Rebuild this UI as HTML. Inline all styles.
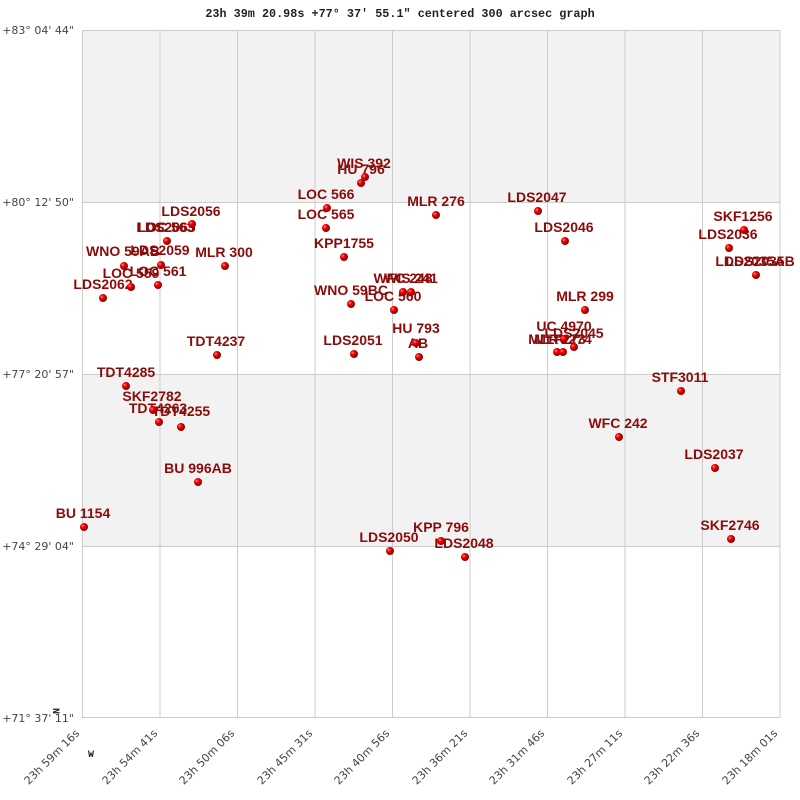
<!DOCTYPE html>
<html><head><meta charset="utf-8"><style>body{margin:0;background:#fff}svg{display:block}</style></head><body>
<svg width="800" height="800" xmlns="http://www.w3.org/2000/svg">
<defs><radialGradient id="g" cx="35%" cy="35%" r="65%"><stop offset="0" stop-color="#ff8080"/><stop offset="0.4" stop-color="#ee0000"/><stop offset="1" stop-color="#880000"/></radialGradient></defs>
<rect x="82" y="30" width="698" height="172" fill="#f2f2f2"/>
<rect x="82" y="374" width="698" height="172" fill="#f2f2f2"/>
<g stroke="#cccccc" stroke-width="1">
<line x1="82.5" y1="30" x2="82.5" y2="718"/><line x1="160" y1="30" x2="160" y2="718"/><line x1="237.5" y1="30" x2="237.5" y2="718"/><line x1="315" y1="30" x2="315" y2="718"/><line x1="392.5" y1="30" x2="392.5" y2="718"/><line x1="470" y1="30" x2="470" y2="718"/><line x1="547.5" y1="30" x2="547.5" y2="718"/><line x1="625" y1="30" x2="625" y2="718"/><line x1="702.5" y1="30" x2="702.5" y2="718"/><line x1="780" y1="30" x2="780" y2="718"/>
<line x1="82" y1="30.5" x2="780" y2="30.5"/><line x1="82" y1="202.5" x2="780" y2="202.5"/><line x1="82" y1="374.5" x2="780" y2="374.5"/><line x1="82" y1="546.5" x2="780" y2="546.5"/><line x1="82" y1="717.5" x2="780" y2="717.5"/>
</g>
<text x="400" y="17" text-anchor="middle" font-family="Liberation Mono, monospace" font-weight="bold" font-size="11.8" fill="#222">23h 39m 20.98s +77° 37′ 55.1" centered 300 arcsec graph</text>
<g font-family="DejaVu Sans, sans-serif" font-size="11" fill="#444" text-anchor="end">
<text x="74" y="34">+83° 04' 44"</text><text x="74" y="206">+80° 12' 50"</text><text x="74" y="378">+77° 20' 57"</text><text x="74" y="550">+74° 29' 04"</text><text x="74" y="722">+71° 37' 11"</text>
</g>
<g font-family="DejaVu Sans, sans-serif" font-size="11" fill="#444" text-anchor="end">
<text transform="translate(80,734) rotate(-45)">23h 59m 16s</text>
<text transform="translate(158,734) rotate(-45)">23h 54m 41s</text>
<text transform="translate(235,734) rotate(-45)">23h 50m 06s</text>
<text transform="translate(313,734) rotate(-45)">23h 45m 31s</text>
<text transform="translate(390,734) rotate(-45)">23h 40m 56s</text>
<text transform="translate(468,734) rotate(-45)">23h 36m 21s</text>
<text transform="translate(545,734) rotate(-45)">23h 31m 46s</text>
<text transform="translate(623,734) rotate(-45)">23h 27m 11s</text>
<text transform="translate(700,734) rotate(-45)">23h 22m 36s</text>
<text transform="translate(778,734) rotate(-45)">23h 18m 01s</text>
</g>
<text x="57" y="712" font-family="Liberation Mono, monospace" font-weight="bold" font-size="10" fill="#222" transform="rotate(90 57 708)">N</text>
<text x="88" y="757" font-family="Liberation Mono, monospace" font-weight="bold" font-size="10" fill="#222">W</text>
<g font-family="Liberation Sans, sans-serif" font-weight="bold" font-size="14" fill="#8b0a0a" text-anchor="middle">
<text x="364" y="168">WIS 392</text><text x="361" y="174">HU 796</text><text x="326" y="199">LOC 566</text><text x="326" y="219">LOC 565</text><text x="436" y="206">MLR 276</text><text x="344" y="248">KPP1755</text><text x="403" y="283">WFC 248</text><text x="411" y="283">WIS 241</text><text x="351" y="295">WNO  59BC</text><text x="393" y="301">LOC 560</text><text x="416" y="333">HU  793</text><text x="418" y="348">AB</text><text x="353" y="345">LDS2051</text>
<text x="191" y="216">LDS2056</text><text x="166" y="232">LOC 563</text><text x="166" y="232">LDS2065</text><text x="160" y="255">LDS2059</text><text x="123" y="256">WNO  59AB</text><text x="224" y="257">MLR 300</text><text x="131" y="278">LOC 559</text><text x="158" y="276">LOC 561</text><text x="103" y="289">LDS2062</text>
<text x="216" y="346">TDT4237</text><text x="126" y="377">TDT4285</text><text x="152" y="401">SKF2782</text><text x="158" y="413">TDT4263</text><text x="181" y="416">TDT4255</text><text x="198" y="473">BU  996AB</text><text x="83" y="518">BU 1154</text>
<text x="389" y="542">LDS2050</text><text x="441" y="532">KPP 796</text><text x="464" y="548">LDS2048</text><text x="537" y="202">LDS2047</text><text x="564" y="232">LDS2046</text><text x="585" y="301">MLR 299</text><text x="564" y="331">UC 4970</text><text x="574" y="338">LDS2045</text><text x="557" y="344">MLR 273</text><text x="563" y="344">MLR 274</text>
<text x="680" y="382">STF3011</text><text x="618" y="428">WFC 242</text><text x="714" y="459">LDS2037</text><text x="730" y="530">SKF2746</text><text x="743" y="221">SKF1256</text><text x="728" y="239">LDS2036</text><text x="755" y="266">LDS2035</text><text x="755" y="266">LDS2035AB</text>
</g>
<g fill="url(#g)">
<circle cx="365" cy="177" r="4"/><circle cx="361" cy="183" r="4"/><circle cx="327" cy="208" r="4"/><circle cx="326" cy="228" r="4"/><circle cx="436" cy="215" r="4"/><circle cx="344" cy="257" r="4"/><circle cx="403" cy="292" r="4"/><circle cx="411" cy="292" r="4"/><circle cx="351" cy="304" r="4"/><circle cx="394" cy="310" r="4"/><circle cx="416" cy="343" r="4"/><circle cx="419" cy="357" r="4"/><circle cx="354" cy="354" r="4"/>
<circle cx="192" cy="224" r="4"/><circle cx="167" cy="241" r="4"/><circle cx="161" cy="265" r="4"/><circle cx="124" cy="266" r="4"/><circle cx="225" cy="266" r="4"/><circle cx="131" cy="287" r="4"/><circle cx="158" cy="285" r="4"/><circle cx="103" cy="298" r="4"/>
<circle cx="217" cy="355" r="4"/><circle cx="126" cy="386" r="4"/><circle cx="153" cy="410" r="4"/><circle cx="159" cy="422" r="4"/><circle cx="181" cy="427" r="4"/><circle cx="198" cy="482" r="4"/><circle cx="84" cy="527" r="4"/>
<circle cx="390" cy="551" r="4"/><circle cx="441" cy="541" r="4"/><circle cx="465" cy="557" r="4"/><circle cx="538" cy="211" r="4"/><circle cx="565" cy="241" r="4"/><circle cx="585" cy="310" r="4"/><circle cx="564" cy="339" r="4"/><circle cx="574" cy="347" r="4"/><circle cx="557" cy="352" r="4"/><circle cx="563" cy="352" r="4"/>
<circle cx="681" cy="391" r="4"/><circle cx="619" cy="437" r="4"/><circle cx="715" cy="468" r="4"/><circle cx="731" cy="539" r="4"/><circle cx="744" cy="230" r="4"/><circle cx="729" cy="248" r="4"/><circle cx="756" cy="275" r="4"/>
</g>
</svg>
</body></html>
